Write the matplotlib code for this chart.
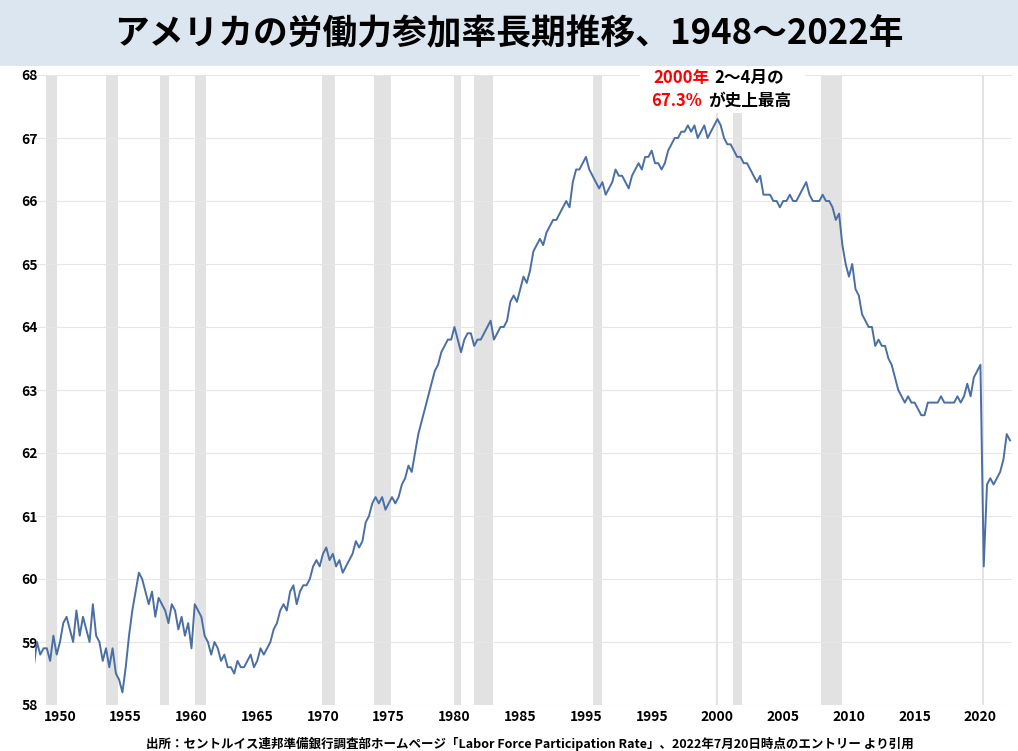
import matplotlib
matplotlib.use("Agg")
import matplotlib.pyplot as plt
import numpy as np

plt.rcParams["font.family"] = ["Noto Sans CJK JP", "DejaVu Sans"]

start_year = 1948
quarterly = [
58.6,59.0,58.8,58.9, 58.9,58.7,59.1,58.8, 59.0,59.3,59.4,59.2, 59.0,59.5,59.1,59.4,
59.2,59.0,59.6,59.1, 59.0,58.7,58.9,58.6, 58.9,58.5,58.4,58.2, 58.6,59.1,59.5,59.8,
60.1,60.0,59.8,59.6, 59.8,59.4,59.7,59.6, 59.5,59.3,59.6,59.5, 59.2,59.4,59.1,59.3,
58.9,59.6,59.5,59.4, 59.1,59.0,58.8,59.0, 58.9,58.7,58.8,58.6, 58.6,58.5,58.7,58.6,
58.6,58.7,58.8,58.6, 58.7,58.9,58.8,58.9, 59.0,59.2,59.3,59.5, 59.6,59.5,59.8,59.9,
59.6,59.8,59.9,59.9, 60.0,60.2,60.3,60.2, 60.4,60.5,60.3,60.4, 60.2,60.3,60.1,60.2,
60.3,60.4,60.6,60.5, 60.6,60.9,61.0,61.2, 61.3,61.2,61.3,61.1, 61.2,61.3,61.2,61.3,
61.5,61.6,61.8,61.7, 62.0,62.3,62.5,62.7, 62.9,63.1,63.3,63.4, 63.6,63.7,63.8,63.8,
64.0,63.8,63.6,63.8, 63.9,63.9,63.7,63.8, 63.8,63.9,64.0,64.1, 63.8,63.9,64.0,64.0,
64.1,64.4,64.5,64.4, 64.6,64.8,64.7,64.9, 65.2,65.3,65.4,65.3, 65.5,65.6,65.7,65.7,
65.8,65.9,66.0,65.9, 66.3,66.5,66.5,66.6, 66.7,66.5,66.4,66.3, 66.2,66.3,66.1,66.2,
66.3,66.5,66.4,66.4, 66.3,66.2,66.4,66.5, 66.6,66.5,66.7,66.7, 66.8,66.6,66.6,66.5,
66.6,66.8,66.9,67.0, 67.0,67.1,67.1,67.2, 67.1,67.2,67.0,67.1, 67.2,67.0,67.1,67.2,
67.3,67.2,67.0,66.9, 66.9,66.8,66.7,66.7, 66.6,66.6,66.5,66.4, 66.3,66.4,66.1,66.1,
66.1,66.0,66.0,65.9, 66.0,66.0,66.1,66.0, 66.0,66.1,66.2,66.3, 66.1,66.0,66.0,66.0,
66.1,66.0,66.0,65.9, 65.7,65.8,65.3,65.0, 64.8,65.0,64.6,64.5, 64.2,64.1,64.0,64.0,
63.7,63.8,63.7,63.7, 63.5,63.4,63.2,63.0, 62.9,62.8,62.9,62.8, 62.8,62.7,62.6,62.6,
62.8,62.8,62.8,62.8, 62.9,62.8,62.8,62.8, 62.8,62.9,62.8,62.9, 63.1,62.9,63.2,63.3,
63.4,60.2,61.5,61.6, 61.5,61.6,61.7,61.9, 62.3,62.2,
]
recessions = [(1948.9,1949.8),(1953.5,1954.4),(1957.6,1958.3),(1960.3,1961.1),
              (1969.9,1970.9),(1973.9,1975.2),(1980.0,1980.5),(1981.5,1982.9),
              (1990.5,1991.2),(2001.2,2001.9),(2007.9,2009.5),(2020.1,2020.3)]
tick_years = [1950,1955,1960,1965,1970,1975,1980,1985,1990,1995,2000,2005,2010,2015,2020]
tick_labels = ["1950","1955","1960","1965","1970","1975","1980","1985","1995","1995",
               "2000","2005","2010","2015","2020"]
yticks = [58,59,60,61,62,63,64,65,66,67,68]

t = start_year + np.arange(len(quarterly)) / 4.0

fig = plt.figure(figsize=(10.18, 7.51), dpi=100)
fig.patch.set_facecolor("white")
fig.patches.append(plt.Rectangle((0, 1-66/751), 1, 66/751, transform=fig.transFigure,
                                 facecolor="#dce6f1", edgecolor="none"))
fig.text(0.5, 1-34/751, "アメリカの労働力参加率長期推移、1948～2022年", ha="center", va="center",
         fontsize=25, fontweight="bold", color="black")

ax = fig.add_axes([35/1018, 1-705/751, 977/1018, 630/751])
for a, b in recessions:
    ax.axvspan(a, b, color="#e2e2e2", lw=0, zorder=0)
ax.axvline(2000.0, color="#e2e2e2", lw=1.5, zorder=0)
ax.plot(t, quarterly, color="#4a6fa5", lw=1.4, zorder=3)
ax.set_xlim(1948.1, 2022.4)
ax.set_ylim(58, 68)
ax.set_yticks(yticks)
ax.set_xticks(tick_years)
ax.set_xticklabels(tick_labels)
ax.grid(axis="y", color="#e6e6e6", lw=0.8, zorder=0)
for s in ax.spines.values():
    s.set_visible(False)
ax.tick_params(length=0, labelsize=10)
for lab in ax.get_xticklabels() + ax.get_yticklabels():
    lab.set_fontweight("bold")
ax.tick_params(axis="y", pad=-2)

fig.patches.append(plt.Rectangle((640/1018, 1-113/751), 165/1018, 45/751, transform=fig.transFigure,
                                 facecolor="white", edgecolor="none", zorder=5))
kw = dict(fontsize=12, fontweight="bold", va="center", zorder=6)
fig.text(653/1018, 1-78/751, "2000年", color="red", ha="left", **kw)
fig.text(714/1018, 1-78/751, "2～4月の", color="black", ha="left", **kw)
fig.text(651/1018, 1-101/751, "67.3%", color="red", ha="left", **kw)
fig.text(708/1018, 1-101/751, "が史上最高", color="black", ha="left", **kw)

fig.text(530/1018, 1-744/751,
         "出所：セントルイス連邦準備銀行調査部ホームページ「Labor Force Participation Rate」、2022年7月20日時点のエントリー より引用",
         ha="center", va="center", fontsize=9, fontweight="bold")

fig.savefig("out.png", dpi=100)
